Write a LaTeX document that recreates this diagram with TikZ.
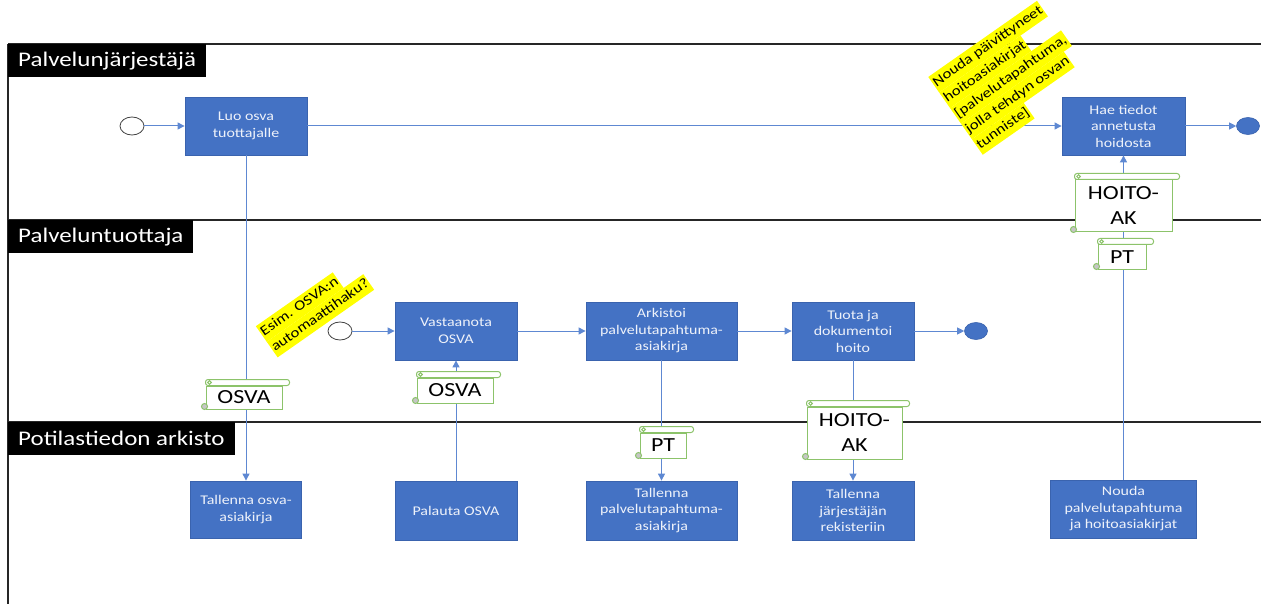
\documentclass[tikz,border=0pt]{standalone}
\usepackage{fontspec}
\setmainfont{Carlito}[FakeStretch=1.2]
\usetikzlibrary{arrows.meta,shapes.geometric,calc}
\definecolor{boxblue}{HTML}{4472C4}
\definecolor{boxedge}{HTML}{3A63AE}
\definecolor{linkblue}{HTML}{5E88D2}
\definecolor{scrollgreen}{HTML}{8CC36A}
\definecolor{hiyellow}{HTML}{FFFF00}
\definecolor{boxtext}{HTML}{EEF2FA}
\definecolor{lanegray}{HTML}{262626}

\newcommand\hl[1]{{\setlength\fboxsep{1pt}\colorbox{hiyellow}{\rule[-5pt]{0pt}{17pt}#1}}}
\newcommand\scrolldeco[1]{%
  \draw[scrollline, fill=white, rounded corners=2.5pt] ($(#1.north west)+(0,-6)$) rectangle ($(#1.north east)+(7,0)$);
  \draw[scrollline] ($(#1.north west)+(4,-3)$) circle (1.8pt);
  \draw[scrollline, fill=gray!45] ($(#1.south west)+(-1,-3)$) circle (3pt);
}

\tikzset{
  procbox/.style={rectangle, fill=boxblue, draw=boxedge, line width=0.8pt, text=boxtext,
    align=center, inner sep=0pt, font=\fontsize{13.3}{16.5}\selectfont},
  startev/.style={ellipse, draw=black!75, fill=white, line width=0.8pt, minimum width=24pt,
    minimum height=18pt, inner sep=0pt},
  endev/.style={ellipse, draw=boxedge, fill=boxblue, line width=0.6pt, minimum width=23pt,
    minimum height=17pt, inner sep=0pt},
  conn/.style={draw=linkblue, line width=1pt, -{Triangle[length=7pt,width=7pt]}},
  lane/.style={draw=lanegray, line width=1.1pt},
  header/.style={rectangle, fill=black, text=white, anchor=north west, inner xsep=10pt,
    inner ysep=0pt, minimum height=33pt, font=\fontsize{20.8}{24}\selectfont},
  scrollbody/.style={rectangle, draw=scrollgreen, fill=white, line width=1pt, inner sep=0pt,
    align=center, font=\fontsize{20}{25}\selectfont, text=black},
  scrollline/.style={draw=scrollgreen, line width=1pt},
  annot/.style={align=left, inner sep=0pt, font=\fontsize{14}{19}\selectfont, rotate=35}
}

\begin{document}
\begin{tikzpicture}[x=1pt, y=-1pt]
\useasboundingbox (0,0) rectangle (1261,604);

% lanes
\draw[lane] (8,44) -- (1261,44);
\draw[lane] (8,44) -- (8,604);
\draw[lane] (8,220) -- (1261,220);
\draw[lane] (8,422) -- (1261,422);

\node[header] (h1) at (8,44) {Palvelunjärjestäjä};
\node[header] (h2) at (8,220) {Palveluntuottaja};
\node[header] (h3) at (8,422) {Potilastiedon arkisto};

% events
\node[startev] (s1) at (132,126) {};
\node[endev] (e1) at (1248,126) {};
\node[startev] (s2) at (340,331) {};
\node[endev] (e2) at (976,331) {};

% process boxes
\node[procbox, minimum width=122pt, minimum height=58pt] (luo) at (246,126) {Luo osva\\tuottajalle};
\node[procbox, minimum width=123pt, minimum height=58pt] (hae) at (1123.5,126) {Hae tiedot\\annetusta\\hoidosta};
\node[procbox, minimum width=122pt, minimum height=58pt] (vast) at (456,331) {Vastaanota\\OSVA};
\node[procbox, minimum width=151pt, minimum height=58pt] (ark) at (661.5,331) {Arkistoi\\palvelutapahtuma-\\asiakirja};
\node[procbox, minimum width=122pt, minimum height=58pt] (tuota) at (853,331) {Tuota ja\\dokumentoi\\hoito};
\node[procbox, minimum width=111pt, minimum height=57pt] (tosva) at (246,509.5) {Tallenna osva-\\asiakirja};
\node[procbox, minimum width=122pt, minimum height=59pt] (palauta) at (456,510.5) {Palauta OSVA};
\node[procbox, minimum width=151pt, minimum height=59pt] (tpal) at (661.5,510.5) {Tallenna\\palvelutapahtuma-\\asiakirja};
\node[procbox, minimum width=122pt, minimum height=59pt] (tjar) at (853,510.5) {Tallenna\\järjestäjän\\rekisteriin};
\node[procbox, minimum width=146pt, minimum height=58pt] (nouda) at (1123.5,509) {Nouda\\palvelutapahtuma\\ja hoitoasiakirjat};

% connectors
\draw[conn] (s1) -- (luo);
\draw[conn] (luo) -- (hae);
\draw[conn] (hae) -- (e1);
\draw[conn] (luo) -- (tosva);
\draw[conn] (palauta) -- (vast);
\draw[conn] (s2) -- (vast);
\draw[conn] (vast) -- (ark);
\draw[conn] (ark) -- (tuota);
\draw[conn] (tuota) -- (e2);
\draw[conn] (ark) -- (tpal);
\draw[conn] (tuota) -- (tjar);
\draw[conn] (nouda) -- (hae);

% scrolls (data objects)
\node[scrollbody, minimum width=76pt, minimum height=23pt] (sc1) at (244,397.5) {OSVA};
\scrolldeco{sc1}
\node[scrollbody, minimum width=76pt, minimum height=25pt] (sc2) at (455,390.5) {OSVA};
\scrolldeco{sc2}
\node[scrollbody, minimum width=46pt, minimum height=25pt] (sc3) at (663,445.5) {PT};
\scrolldeco{sc3}
\node[scrollbody, minimum width=95pt, minimum height=52pt] (sc4) at (854.5,433) {HOITO-\\AK};
\scrolldeco{sc4}
\node[scrollbody, minimum width=97pt, minimum height=52pt] (sc5) at (1123.5,206) {HOITO-\\AK};
\scrolldeco{sc5}
\node[scrollbody, minimum width=48pt, minimum height=24pt] (sc6) at (1122,257) {PT};
\scrolldeco{sc6}

% annotations
\node[annot] (n1) at (1011,77) {\hl{Nouda päivittyneet}\\\hl{hoitoasiakirjat}\\\hl{[palvelutapahtuma,}\\\hl{jolla tehdyn osvan}\\\hl{tunniste]}};
\node[annot] (n2) at (315,308) {\hl{Esim. OSVA:n}\\\hl{automaattihaku?}};
\end{tikzpicture}
\end{document}
